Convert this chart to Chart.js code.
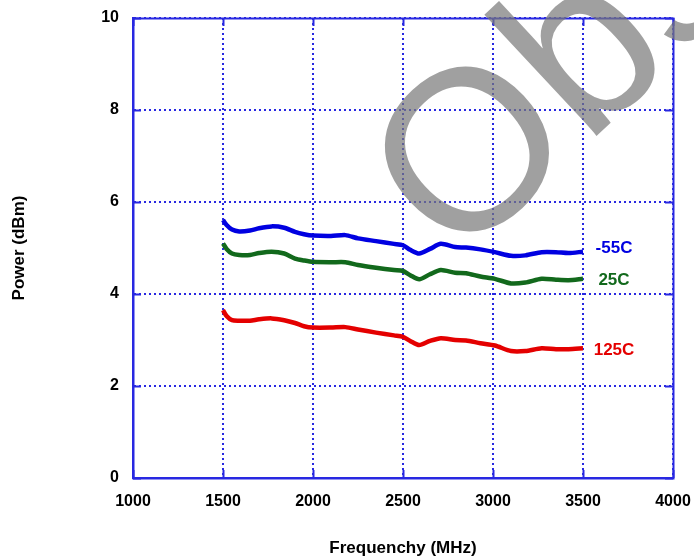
<!DOCTYPE html>
<html>
<head>
<meta charset="utf-8">
<script src="https://cdn.jsdelivr.net/npm/chart.js@4/dist/chart.umd.min.js"></script>
<style>
  html, body { margin: 0; padding: 0; background: #fff; }
  #powerChart { display: block; }
</style>
</head>
<body>
<canvas id="powerChart" width="694" height="556"></canvas>
<script>
// frequency points (MHz)
var freqs = [1500, 1520, 1550, 1590, 1650, 1700, 1770, 1840, 1900, 1950, 2000, 2100, 2180, 2250, 2350, 2450,
             2500, 2540, 2590, 2650, 2710, 2790, 2850, 2930, 3010, 3100, 3180, 3270, 3350, 3420, 3500];

// output power (dBm) per temperature
var powerMinus55 = [5.61, 5.50, 5.40, 5.36, 5.38, 5.43, 5.47, 5.44, 5.35, 5.30, 5.27, 5.26, 5.28, 5.21, 5.15, 5.09,
                    5.06, 4.96, 4.88, 4.98, 5.09, 5.02, 5.01, 4.97, 4.91, 4.83, 4.84, 4.91, 4.91, 4.89, 4.92];
var power25 = [5.10, 4.98, 4.88, 4.85, 4.85, 4.89, 4.92, 4.88, 4.77, 4.73, 4.70, 4.69, 4.69, 4.63, 4.57, 4.52,
               4.50, 4.41, 4.32, 4.43, 4.52, 4.46, 4.45, 4.38, 4.33, 4.23, 4.25, 4.33, 4.31, 4.30, 4.33];
var power125 = [3.65, 3.52, 3.43, 3.42, 3.42, 3.45, 3.47, 3.43, 3.37, 3.30, 3.27, 3.27, 3.28, 3.23, 3.16, 3.10,
                3.07, 2.98, 2.89, 2.98, 3.04, 3.00, 2.99, 2.93, 2.88, 2.76, 2.76, 2.82, 2.80, 2.80, 2.82];

var seriesNames = ["-55C", "25C", "125C"];
var xTicks = [1000, 1500, 2000, 2500, 3000, 3500, 4000];
var yTicks = [0, 2, 4, 6, 8, 10];

var gridBlue = "rgb(40,40,225)";
var fontFam = '"Liberation Sans", Arial, sans-serif';

function toPoints(vals) {
  return freqs.map(function(f, i) { return {x: f, y: vals[i]}; });
}

// labels at the end of each curve, frame, inner ticks, watermark
var decorPlugin = {
  id: 'decor',
  beforeDatasetsDraw: function(chart) {
    var ctx = chart.ctx, a = chart.chartArea;
    var xs = chart.scales.x, ys = chart.scales.y;
    ctx.save();
    ctx.strokeStyle = gridBlue;
    ctx.lineWidth = 2;
    ctx.setLineDash([]);
    ctx.beginPath();
    xTicks.forEach(function(v) {
      var px = Math.round(xs.getPixelForValue(v)) + 0.5;
      ctx.moveTo(px, a.bottom); ctx.lineTo(px, a.bottom - 8);
      ctx.moveTo(px, a.top); ctx.lineTo(px, a.top + 8);
    });
    yTicks.forEach(function(v) {
      var py = Math.round(ys.getPixelForValue(v)) + 0.5;
      ctx.moveTo(a.left, py); ctx.lineTo(a.left + 8, py);
      ctx.moveTo(a.right, py); ctx.lineTo(a.right - 8, py);
    });
    ctx.stroke();
    ctx.strokeRect(Math.round(a.left) + 0.5, Math.round(a.top) + 0.5,
                   Math.round(a.right - a.left), Math.round(a.bottom - a.top));
    ctx.restore();
  },
  afterDatasetsDraw: function(chart) {
    var ctx = chart.ctx;
    var offsets = [-3, 1, 2];
    ctx.save();
    ctx.font = 'bold 17px ' + fontFam;
    ctx.textAlign = 'center';
    ctx.textBaseline = 'middle';
    chart.data.datasets.forEach(function(ds, i) {
      var pts = chart.getDatasetMeta(i).data;
      var last = pts[pts.length - 1];
      ctx.fillStyle = ds.borderColor;
      ctx.fillText(seriesNames[i], last.x + 31, last.y + offsets[i]);
    });
    ctx.restore();
  },
  afterDraw: function(chart) {
    var ctx = chart.ctx;
    ctx.save();
    ctx.translate(456, 267);
    ctx.rotate(-43 * Math.PI / 180);
    ctx.font = '228px ' + fontFam;
    ctx.fillStyle = 'rgba(120,120,120,0.7)';
    ctx.textAlign = 'left';
    ctx.textBaseline = 'alphabetic';
    ctx.fillText('Obsolete', 0, 0);
    ctx.restore();
  }
};

var tickFont = { family: fontFam, size: 16, weight: 'bold' };
var titleFont = { family: fontFam, size: 17, weight: 'bold' };
var plainNum = function(v) { return String(v); };

var ctx = document.getElementById("powerChart");
var powerChart = new Chart(ctx, {
  type: 'line',
  data: {
    datasets: [
      { label: seriesNames[0], data: toPoints(powerMinus55), borderColor: "rgb(0,0,225)" },
      { label: seriesNames[1], data: toPoints(power25), borderColor: "rgb(18,105,28)" },
      { label: seriesNames[2], data: toPoints(power125), borderColor: "rgb(228,0,0)" }
    ]
  },
  options: {
    responsive: false,
    animation: false,
    layout: { padding: { top: 18, right: 21, left: 0, bottom: 0 } },
    elements: {
      line: { borderWidth: 4.5, tension: 0.25, fill: false },
      point: { radius: 0, hoverRadius: 0 }
    },
    plugins: {
      legend: { display: false },
      tooltip: { enabled: false }
    },
    scales: {
      x: {
        type: 'linear',
        min: 1000, max: 4000,
        afterFit: function(s) { s.height = 78; s.paddingLeft = 0; s.paddingRight = 0; },
        afterBuildTicks: function(s) { s.ticks = xTicks.map(function(v) { return {value: v}; }); },
        ticks: { color: '#000', font: tickFont, padding: 14, maxRotation: 0, callback: plainNum },
        grid: { color: gridBlue, lineWidth: 2, drawTicks: false },
        border: { color: gridBlue, width: 2, dash: [2, 3] },
        title: { display: true, text: 'Frequenchy (MHz)', color: '#000',
                 font: titleFont, padding: { top: 0, bottom: -3 } }
      },
      y: {
        min: 0, max: 10,
        afterFit: function(s) { s.width = 133; s.paddingTop = 0; s.paddingBottom = 0; },
        afterBuildTicks: function(s) { s.ticks = yTicks.map(function(v) { return {value: v}; }); },
        ticks: { color: '#000', font: tickFont, padding: 14, callback: plainNum },
        grid: { color: gridBlue, lineWidth: 2, drawTicks: false },
        border: { color: gridBlue, width: 2, dash: [2, 3] },
        title: { display: true, text: 'Power (dBm)', color: '#000',
                 font: titleFont, padding: { top: 9, bottom: 0 } }
      }
    }
  },
  plugins: [decorPlugin]
});
</script>
</body>
</html>
